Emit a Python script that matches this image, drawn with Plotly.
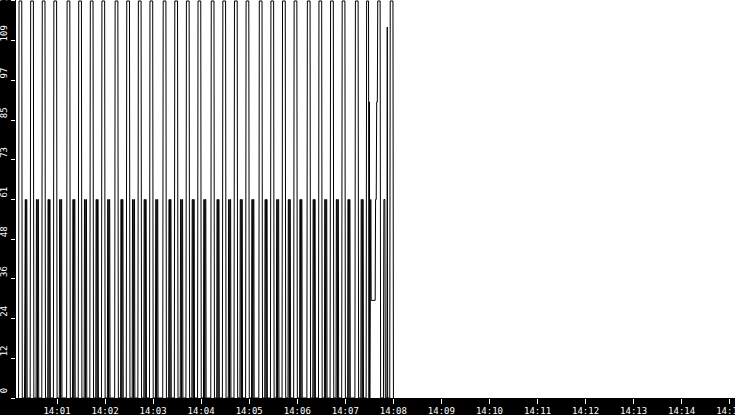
import plotly.graph_objects as go

DAY = "2024-01-01 "

# Start times of the regular pulses (upper "n" pulse followed by a lower spike)
pulse_starts = [
    "14:00:12", "14:00:26.5", "14:00:41", "14:00:55.5",
    "14:01:12", "14:01:26.5", "14:01:41", "14:01:55.5",
    "14:02:12", "14:02:26.5", "14:02:41", "14:02:55.5",
    "14:03:12", "14:03:26.5", "14:03:41", "14:03:55.5",
    "14:04:12", "14:04:26.5", "14:04:41", "14:04:55.5",
    "14:05:12", "14:05:26.5", "14:05:41", "14:05:55.5",
    "14:06:12", "14:06:26.5", "14:06:41", "14:06:55.5",
    "14:07:12",
]
# Shape of one pulse: seconds after its start, and the value reached
pulse_offsets = [0.0, 0.6, 4.0, 4.6, 7.4, 7.8, 8.5, 8.9, 9.2, 9.6, 10.3, 10.7]
pulse_values = [0, 122, 122, 0, 0, 61, 61, 0, 0, 61, 61, 0]

# Irregular end of the recording (seconds after 14:07:00, value)
tail_seconds = [26.0, 26.6, 29.0, 29.6, 30.1, 30.6, 31.0, 31.8, 32.3, 37.3,
                37.8, 38.6, 39.2, 40.0, 40.5, 43.5, 44.1, 47.6, 48.2, 49.4,
                50.0, 52.0, 52.4, 52.9, 55.5, 56.1, 59.5, 60.1]
tail_values = [0, 122, 122, 0, 91, 0, 61, 61, 30, 30,
               61, 61, 91, 91, 122, 122, 0, 0, 61, 61,
               0, 0, 114, 0, 0, 122, 122, 0]

y_tickvals = [0, 12.2, 24.4, 36.6, 48.8, 61, 73.2, 85.4, 97.6, 109.8, 122]
y_ticktext = ["0", "12", "24", "36", "48", "61", "73", "85", "97", "109", "122"]


def to_seconds(hms):
    h, m, s = hms.split(":")
    return int(h) * 3600 + int(m) * 60 + float(s)


def stamp(sec):
    h = int(sec // 3600)
    m = int((sec % 3600) // 60)
    s = sec - h * 3600 - m * 60
    return f"{DAY}{h:02d}:{m:02d}:{s:06.3f}"


xs, ys = [], []
for st in pulse_starts:
    base = to_seconds(st)
    for off, v in zip(pulse_offsets, pulse_values):
        xs.append(stamp(base + off))
        ys.append(v)
tail_base = to_seconds("14:07:00")
for off, v in zip(tail_seconds, tail_values):
    xs.append(stamp(tail_base + off))
    ys.append(v)

fig = go.Figure()
fig.add_trace(go.Scatter(
    x=xs, y=ys, mode="lines",
    line=dict(color="black", width=1),
    hoverinfo="skip", showlegend=False,
))

font = dict(family="DejaVu Sans Mono", size=9, color="white")

fig.update_layout(
    width=735, height=415,
    margin=dict(l=16, r=0, t=0, b=17, autoexpand=False),
    paper_bgcolor="black",
    plot_bgcolor="white",
    showlegend=False,
    hovermode=False,
    xaxis=dict(
        type="date",
        range=[DAY + "14:00:08.8", DAY + "14:15:06.6"],
        tick0=DAY + "14:00:00",
        dtick=60000,
        tickformat="%H:%M",
        ticks="outside", ticklen=5, tickcolor="white", tickwidth=1,
        tickfont=font,
        ticklabelstandoff=-1,
        ticklabeloverflow="allow",
        automargin=False,
        showgrid=False, zeroline=False, showline=False,
        fixedrange=True,
    ),
    yaxis=dict(
        range=[0, 122.3],
        tickmode="array",
        tickvals=y_tickvals,
        ticktext=y_ticktext,
        tickangle=-90,
        ticklabelshift=-6,
        ticklabelstandoff=0,
        ticklabeloverflow="allow",
        automargin=False,
        ticks="outside", ticklen=4, tickcolor="white", tickwidth=1,
        tickfont=font,
        showgrid=False, zeroline=False, showline=False,
        fixedrange=True,
    ),
)

fig.write_html(
    "out.html",
    config={"displayModeBar": False},
    post_script="document.documentElement.style.margin='0';"
                "document.body.style.margin='0';"
                "document.body.style.overflow='hidden';"
                "document.body.style.background='black';",
)
